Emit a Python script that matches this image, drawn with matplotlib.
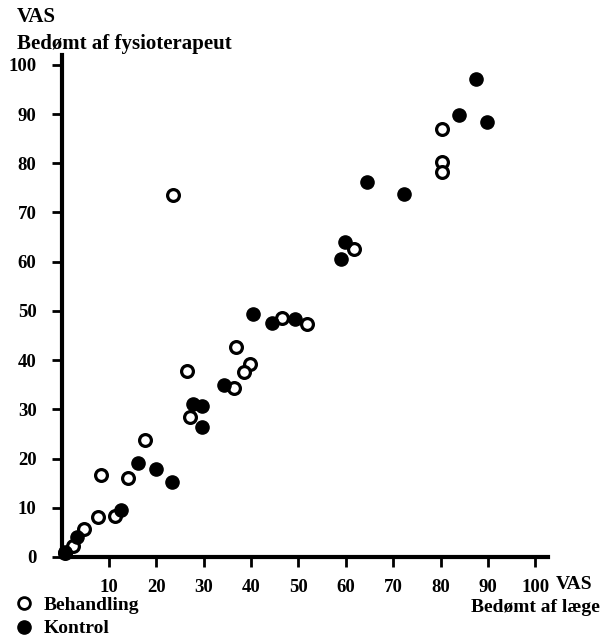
import matplotlib
matplotlib.use("Agg")
import matplotlib.pyplot as plt
from matplotlib.lines import Line2D

# Behandling (open circles)
beh_x = [23.5, 80.2, 80.4, 80.4, 61.8, 46.5, 51.8, 36.8, 26.4, 39.7, 38.6, 36.3,
         27.1, 17.6, 8.3, 14.0, 7.7, 11.3, 4.7, 2.4, 0.7]
beh_y = [73.6, 87.0, 80.3, 78.3, 62.6, 48.5, 47.4, 42.7, 37.8, 39.2, 37.5, 34.3,
         28.5, 23.8, 16.7, 16.1, 8.1, 8.3, 5.7, 2.2, 0.8]

# Kontrol (filled circles)
kon_x = [87.4, 83.8, 89.7, 64.5, 72.2, 59.9, 59.0, 40.4, 44.4, 49.3, 34.3, 27.8,
         29.7, 29.7, 16.1, 19.9, 23.3, 12.5, 3.2, 0.7]
kon_y = [97.2, 89.8, 88.4, 76.2, 73.8, 64.0, 60.6, 49.4, 47.5, 48.4, 35.0, 31.1,
         30.7, 26.5, 19.1, 17.9, 15.2, 9.6, 4.1, 1.0]

x_ticks = [10, 20, 30, 40, 50, 60, 70, 80, 90, 100]
y_ticks = [0, 10, 20, 30, 40, 50, 60, 70, 80, 90, 100]

plt.rcParams['font.family'] = ['Liberation Serif', 'DejaVu Serif']
plt.rcParams['font.weight'] = 'bold'

fig = plt.figure(figsize=(6.03, 6.42), dpi=100)
ax = fig.add_axes([0.102, 0.1324, 0.807, 0.782])

ax.plot(beh_x, beh_y, 'o', ms=8.5, mfc='white', mec='black', mew=2.3,
        clip_on=False, zorder=3)
ax.plot(kon_x, kon_y, 'o', ms=9.5, mfc='black', mec='black', mew=1,
        clip_on=False, zorder=3)

ax.set_xlim(0, 102.7)
ax.set_ylim(0, 102)
for s in ['top', 'right']:
    ax.spines[s].set_visible(False)
for s in ['left', 'bottom']:
    ax.spines[s].set_linewidth(3)

ax.set_xticks(x_ticks)
ax.set_yticks(y_ticks)
ax.tick_params(axis='both', direction='out', width=2, length=7,
               labelsize=13.5, pad=9)
ax.tick_params(axis='y', pad=11)
for lab in ax.get_xticklabels() + ax.get_yticklabels():
    lab.set_fontweight('bold')

fig.text(0.028, 0.965, "VAS", fontsize=15, fontweight='bold', va='baseline')
fig.text(0.028, 0.923, "Bedømt af fysioterapeut", fontsize=15,
         fontweight='bold', va='baseline')
fig.text(0.922, 0.082, "VAS", fontsize=14, fontweight='bold', va='baseline')
fig.text(0.994, 0.046, "Bedømt af læge", fontsize=14, fontweight='bold',
         ha='right', va='baseline')

handles = [
    Line2D([], [], ls='none', marker='o', ms=8.5, mfc='white', mec='black',
           mew=2),
    Line2D([], [], ls='none', marker='o', ms=9.5, mfc='black', mec='black'),
]
fig.legend(handles, ['Behandling', 'Kontrol'], loc='lower left',
           bbox_to_anchor=(-0.005, -0.02), frameon=False,
           handletextpad=0.5, labelspacing=0.3, handlelength=1.0,
           prop={'weight': 'bold', 'size': 14})

fig.savefig("out.png", dpi=100)
